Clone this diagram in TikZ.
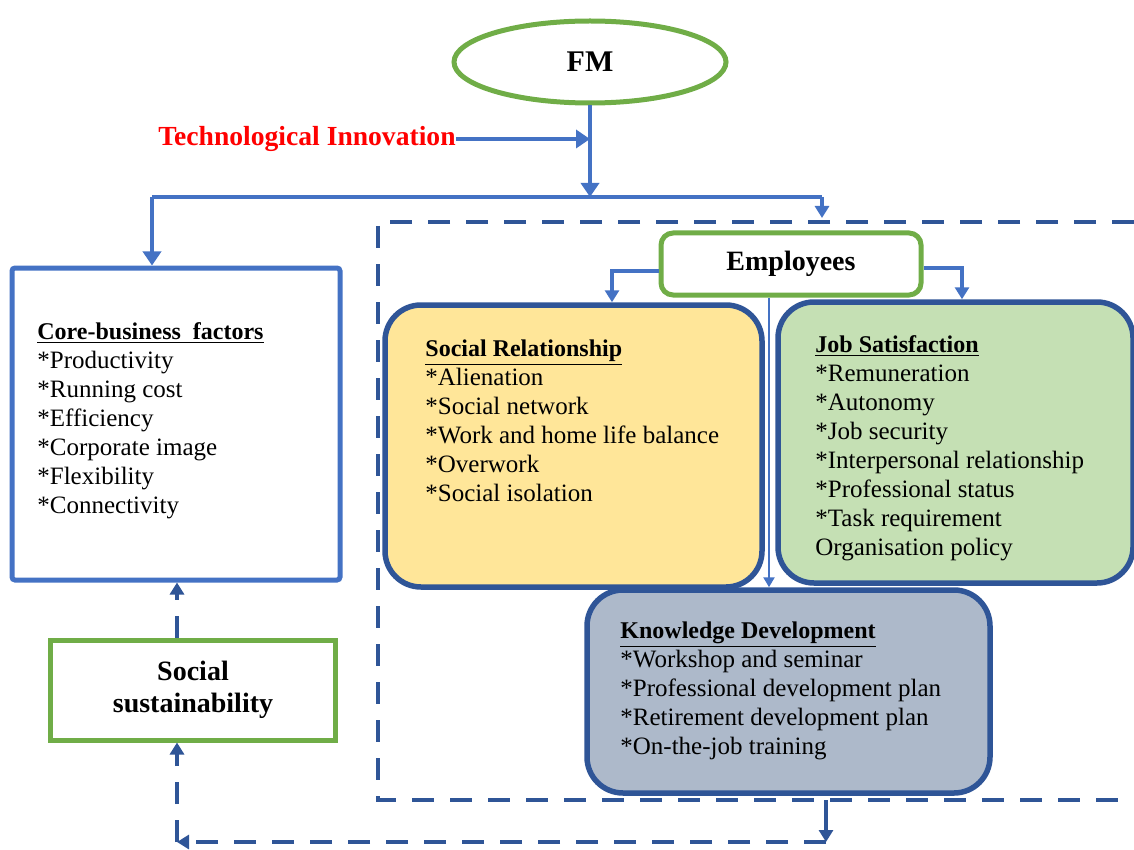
\documentclass[tikz,border=0pt]{standalone}
\usepackage{fontspec}
\setmainfont{Liberation Serif}
\usetikzlibrary{arrows.meta,shapes.geometric}
\definecolor{gr}{HTML}{70AD47}
\definecolor{bl}{HTML}{4472C4}
\definecolor{dbl}{HTML}{2F5597}
\definecolor{yel}{HTML}{FFE699}
\definecolor{lgr}{HTML}{C5E0B4}
\definecolor{gbl}{HTML}{ADB9CA}
\newcommand{\boxtitle}[1]{\underline{\fontsize{12}{14.5}\selectfont\textbf{#1}}}
\begin{document}
\begin{tikzpicture}[x=0.5pt,y=-0.5pt,
  conn/.style={draw=bl, line width=2.2pt, -{Triangle[width=9pt,length=7pt]}},
  sconn/.style={draw=bl, line width=2pt, -{Triangle[width=7pt,length=6pt]}},
  tconn/.style={draw=bl, line width=1.2pt, -{Triangle[width=5.5pt,length=5pt]}},
  bline/.style={draw=bl, line width=2.2pt},
  dashline/.style={draw=dbl, line width=2.2pt, dash pattern=on 11pt off 8pt},
  dconn/.style={dashline, -{Triangle[width=7pt,length=6pt]}},
  soconn/.style={draw=dbl, line width=2.2pt, -{Triangle[width=7pt,length=6pt]}},
  rbox/.style={draw=dbl, line width=2.75pt, rounded corners=18pt, inner sep=0pt},
  gbox/.style={draw=gr, line width=2.5pt, fill=white},
  txt/.style={anchor=north west, inner sep=0pt, align=left, font=\fontsize{12.5}{14.5}\selectfont},
]
\useasboundingbox (0,0) rectangle (1134,850);

% dashed employee frame
\coordinate (dtr) at (1134,222);
\coordinate (dtl) at (378,222);
\coordinate (dbl) at (378,800);
\coordinate (dbr) at (1134,800);
\draw[dashline] (dtr) -- (dtl) -- (dbl) -- (dbr);

% FM
\node[ellipse, draw=gr, line width=2.5pt, minimum width=136pt, minimum height=41pt, inner sep=0pt,
      font=\bfseries\fontsize{15}{18}\selectfont] (fm) at (590,62) {FM};
\node[anchor=east, inner sep=0pt, text=red, font=\bfseries\fontsize{13.8}{15}\selectfont] (tech) at (456,139) {Technological Innovation};

% boxes
\node[draw=bl, line width=2.5pt, rounded corners=1.5pt, minimum width=164pt, minimum height=156pt, inner sep=0pt] (core) at (176,424) {};
\node[gbox, minimum width=142.5pt, minimum height=50pt, align=center,
      font=\bfseries\fontsize{14}{16}\selectfont] (ss) at (193,690) {Social\\sustainability};
\node[gbox, rounded corners=6pt, minimum width=130pt, minimum height=31pt,
      font=\bfseries\fontsize{14}{16}\selectfont] (emp) at (791,264) {Employees};
\node[rbox, fill=yel, minimum width=188.5pt, minimum height=141pt] (sr) at (573.5,446) {};
\node[rbox, fill=lgr, minimum width=177.5pt, minimum height=140.5pt] (js) at (955.5,442.5) {};
\node[rbox, fill=gbl, minimum width=201.5pt, minimum height=101.5pt] (kd) at (788.5,691.5) {};

% texts
\node[txt] (coret) at (37,322) {\boxtitle{Core-business\ \ factors}\\*Productivity\\*Running cost\\*Efficiency\\*Corporate image\\*Flexibility\\*Connectivity};
\node[txt] (srt) at (425,339) {\boxtitle{Social Relationship}\\*Alienation\\*Social network\\*Work and home life balance\\*Overwork\\*Social isolation};
\node[txt] (jst) at (815,335) {\boxtitle{Job Satisfaction}\\*Remuneration\\*Autonomy\\*Job security\\*Interpersonal relationship\\*Professional status\\*Task requirement\\Organisation policy};
\node[txt] (kdt) at (620,621) {\boxtitle{Knowledge Development}\\*Workshop and seminar\\*Professional development plan\\*Retirement development plan\\*On-the-job training};

% top connectors
\coordinate (split) at (590,197);
\coordinate (hl) at (152,197);
\coordinate (hr) at (822,197);
\draw[conn] (tech.east) -- (tech.east -| split);
\draw[conn] (fm.south) -- (split);
\draw[bline] (hl) -- (hr);
\draw[conn] (hl) -- (hl |- core.north);
\draw[sconn] (hr) -- ([yshift=2pt]hr |- dtl);

% employees connectors
\coordinate (srx) at (612,0);
\coordinate (jsx) at (962,0);
\coordinate (kdx) at (769,0);
\draw[sconn] ([yshift=-3.5pt]emp.west) -| (srx |- sr.north);
\draw[sconn] ([yshift=-2pt]emp.east) -| (jsx |- js.north);
\draw[tconn] (kdx |- emp.south) -- (kdx |- kd.north);

% social sustainability loop
\coordinate (kdout) at (826,800);
\coordinate (bc) at (826,842);
\coordinate (blc) at (177,842);
\draw[soconn] (kdout) -- (bc);
\draw[dconn] (bc) -- (blc);
\draw[dconn] (blc) -- (blc |- ss.south);
\draw[dconn] (ss.north -| blc) -- (blc |- core.south);
\end{tikzpicture}
\end{document}
